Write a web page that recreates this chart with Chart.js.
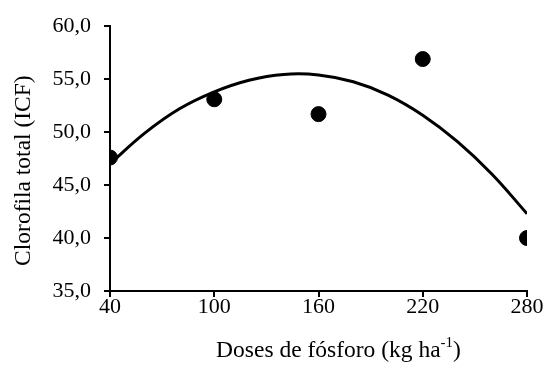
<!DOCTYPE html>
<html>
<head>
<meta charset="utf-8">
<script src="https://cdn.jsdelivr.net/npm/chart.js@4/dist/chart.umd.min.js"></script>
<style>
  html, body { margin: 0; padding: 0; background: #fff; }
  #wrap { width: 545px; height: 365px; }
</style>
</head>
<body>
<div id="wrap"><canvas id="c"></canvas></div>
<script>
// observed doses and chlorophyll readings
const doses = [40, 100, 160, 220, 280];
const clorofila = [47.6, 53.1, 51.7, 56.9, 40.0];

// trend curve
const curveX = [40, 60, 80, 100, 120, 140, 160, 180, 200, 220, 240, 260, 280];
const curveY = [47.0, 49.9, 52.2, 53.8, 54.9, 55.45, 55.4, 54.75, 53.5, 51.6, 49.1, 46.0, 42.3];

const xTicks = [40, 100, 160, 220, 280];
const yTicks = [35, 40, 45, 50, 55, 60];

const FONT = "'Liberation Serif', 'Times New Roman', serif";

// draws both axis titles (x one has a superscript)
const titles = {
  id: "titles",
  afterDraw(chart) {
    const ctx = chart.ctx, a = chart.chartArea;
    ctx.save();
    ctx.fillStyle = "#000";
    ctx.textBaseline = "middle";
    let main = "Doses de fósforo (kg ha", sup = "-1", end = ")";
    ctx.font = "23.5px " + FONT;
    let w1 = ctx.measureText(main).width, w3 = ctx.measureText(end).width;
    ctx.font = "15px " + FONT;
    let w2 = ctx.measureText(sup).width;
    let cx = (a.left + a.right) / 2 + 20, y = chart.height - 14;
    let x = cx - (w1 + w2 + w3) / 2;
    ctx.textAlign = "left";
    ctx.font = "23.5px " + FONT;
    ctx.fillText(main, x, y);
    ctx.font = "15px " + FONT;
    ctx.fillText(sup, x + w1, y - 8);
    ctx.font = "23.5px " + FONT;
    ctx.fillText(end, x + w1 + w2, y);

    ctx.translate(24, (a.top + a.bottom) / 2 + 12);
    ctx.rotate(-Math.PI / 2);
    ctx.textAlign = "center";
    ctx.fillText("Clorofila total (ICF)", 0, 0);
    ctx.restore();
  }
};

new Chart(document.getElementById("c"), {
  type: "scatter",
  data: {
    datasets: [
      {
        type: "line",
        data: curveX.map((x, i) => ({ x: x, y: curveY[i] })),
        borderColor: "#000",
        borderWidth: 3,
        pointRadius: 0,
        fill: false,
        tension: 0.4
      },
      {
        data: doses.map((x, i) => ({ x: x, y: clorofila[i] })),
        backgroundColor: "#000",
        borderColor: "#000",
        pointRadius: 7.5,
        pointHoverRadius: 7.5
      }
    ]
  },
  options: {
    responsive: true,
    maintainAspectRatio: false,
    animation: false,
    layout: { padding: { left: 0, right: 18, top: 26, bottom: 0 } },
    plugins: { legend: { display: false }, tooltip: { enabled: false } },
    scales: {
      x: {
        type: "linear",
        min: 40, max: 280,
        afterBuildTicks: s => { s.ticks = xTicks.map(v => ({ value: v })); },
        afterFit: s => { s.height = 74; },
        border: { color: "#000", width: 2 },
        grid: { drawOnChartArea: false, drawTicks: true, tickLength: 6, color: "#000", lineWidth: 2 },
        ticks: { color: "#000", font: { family: FONT, size: 22 }, padding: -3, maxRotation: 0 }
      },
      y: {
        min: 35, max: 60,
        afterBuildTicks: s => { s.ticks = yTicks.map(v => ({ value: v })); },
        afterFit: s => { s.width = 110; },
        border: { color: "#000", width: 2 },
        grid: { drawOnChartArea: false, drawTicks: true, tickLength: 6, color: "#000", lineWidth: 2 },
        ticks: {
          color: "#000", font: { family: FONT, size: 22 }, padding: 13,
          callback: v => v.toFixed(1).replace(".", ",")
        }
      }
    }
  },
  plugins: [titles]
});
</script>
</body>
</html>
